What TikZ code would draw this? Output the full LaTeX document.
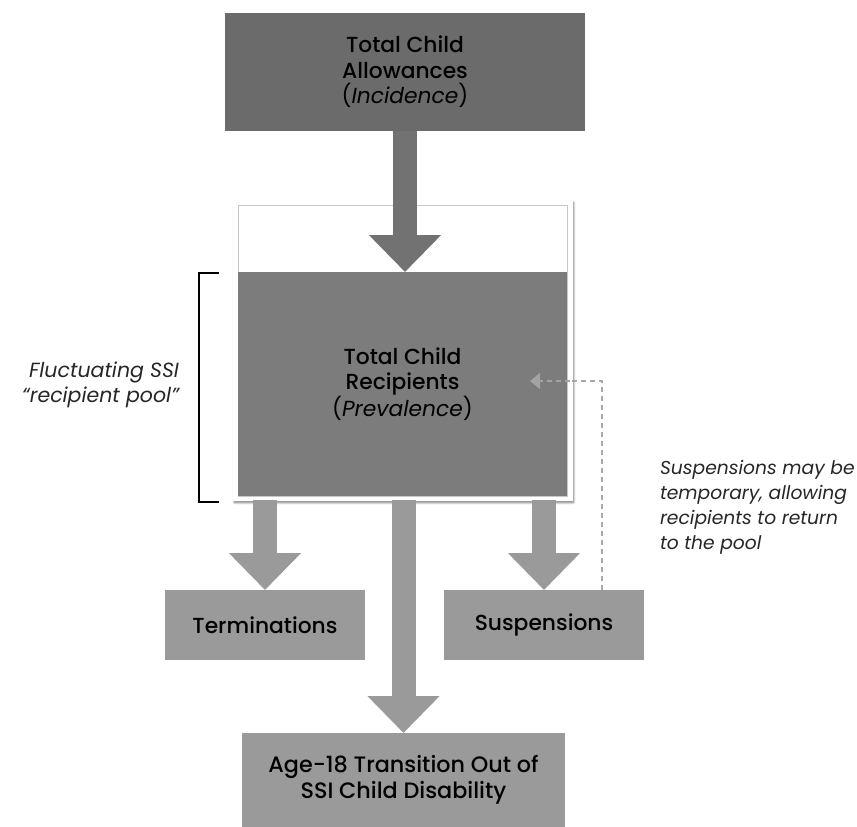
\documentclass[tikz,border=0pt]{standalone}
\usepackage{fontspec}
\setmainfont{Poppins}[BoldFont={Poppins Medium}]
\usetikzlibrary{arrows.meta,shadows.blur,positioning}
\definecolor{topgray}{HTML}{6B6B6B}
\definecolor{poolgray}{HTML}{7C7C7C}
\definecolor{boxgray}{HTML}{9A9A9A}
\definecolor{dashgray}{HTML}{A8A8A8}
\begin{document}
\begin{tikzpicture}[x=1pt,y=-1pt,
  every node/.style={inner sep=0pt,outer sep=0pt},
  txt/.style={align=center,text=black},
  boxtxt/.style={txt,font=\fontsize{21.8}{25.5}\selectfont\bfseries},
  bigarrow/.style={line width=24pt,-{Triangle[width=70pt,length=37pt]}},
  note/.style={font=\fontsize{18.7}{25}\selectfont\itshape,text=black!85}
]
\useasboundingbox (0,0) rectangle (857,827);
% top box
\node[fill=topgray,minimum width=360pt,minimum height=118pt,boxtxt] (top) at (405,72)
  {Total Child\\Allowances\\\textmd{\mdseries(\textit{Incidence})}};
% frame
\node[fill=white,draw=white,minimum width=339pt,minimum height=300pt,
  blur shadow={shadow xshift=1.5pt,shadow yshift=-2.5pt,shadow blur steps=10,shadow opacity=55}] (frame) at (402.5,350) {};
\node[draw=black!22,line width=0.8pt,minimum width=329pt,minimum height=291pt] (inner) at (402.5,350.5) {};
\node[fill=poolgray,minimum width=329pt,minimum height=224pt,boxtxt] (pool) at (402.5,384)
  {Total Child\\Recipients\\\textmd{\mdseries(\textit{Prevalence})}};
% top arrow
\draw[bigarrow,draw=topgray!95,fill=topgray!95] (top.south -| 405,0) -- (pool.north -| 405,0);
% bracket
\coordinate (bt) at (219,273);
\coordinate (bb) at (219,502);
\draw[line width=1.3pt] (bt) -- ++(-20,0) |- (bb);
\node[note,font=\fontsize{20.5}{25}\selectfont\itshape,align=right,anchor=east] (fluct) at (179,385) {Fluctuating SSI\\``recipient pool''};
% lower boxes
\node[fill=boxgray,minimum width=200pt,minimum height=70pt,boxtxt] (term) at (265,625) {Terminations};
\node[fill=boxgray,minimum width=200pt,minimum height=70pt,boxtxt] (susp) at (544,625) {Suspensions};
\node[fill=boxgray,minimum width=323pt,minimum height=94pt,boxtxt,font=\fontsize{22.3}{25.5}\selectfont\bfseries] (age) at (403.5,780)
  {Age-18 Transition Out of\\SSI Child Disability};
% lower arrows
\draw[bigarrow,draw=boxgray,fill=boxgray] (frame.south -| term.north) -- (term.north);
\draw[bigarrow,draw=boxgray,fill=boxgray] (frame.south -| susp.north) -- (susp.north);
\draw[bigarrow,draw=boxgray,fill=boxgray] (frame.south -| age.north) -- (age.north);
% dashed return
\coordinate (dturn) at (602,381);
\coordinate (dend) at (530,381);
\draw[dashgray,line width=2pt,dash pattern=on 5pt off 4pt] (susp.north -| dturn) -- (dturn) -- (570,381);
\draw[poolgray!70!white,line width=2pt,dash pattern=on 5pt off 4pt,-{Triangle[width=16pt,length=10pt]}] (570,381) -- (dend);
\node[note,align=left,anchor=north west] (snote) at (660,460)
  {Suspensions may be\\temporary, allowing\\recipients to return\\to the pool};
\end{tikzpicture}
\end{document}
